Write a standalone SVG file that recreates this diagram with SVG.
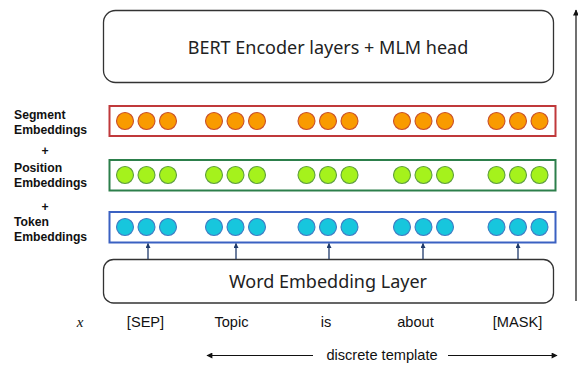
<svg xmlns="http://www.w3.org/2000/svg" width="578" height="365" viewBox="0 0 578 365">
<defs>
<style>
.box{fill:#fff;stroke:#333;stroke-width:1.3}
.big{font-family:"Noto Sans","Liberation Sans",sans-serif;font-size:18px;fill:#222;text-anchor:middle}
.lbl{font-family:"Liberation Sans",Arial,sans-serif;font-size:12.2px;font-weight:bold;fill:#111}
.tok{font-family:"Liberation Sans",Arial,sans-serif;font-size:14.6px;fill:#111;text-anchor:middle}
.row{fill:#fff;stroke-width:2}
.seg circle{fill:#F99B00;stroke:#C9502A;stroke-width:1.1}
.pos circle{fill:#A5F21C;stroke:#5E9E3E;stroke-width:1.1}
.tkn circle{fill:#17C6DD;stroke:#3E7CC4;stroke-width:1.1}
.up{stroke:#1F3A6B;stroke-width:1.3;fill:none;marker-end:url(#ah)}
.blk{stroke:#111;stroke-width:1.2;fill:none;marker-end:url(#bh)}
</style>
<marker id="ah" viewBox="0 0 10 10" refX="9" refY="5" markerWidth="5" markerHeight="5" orient="auto" markerUnits="userSpaceOnUse"><path d="M0,0 L10,5 L0,10 z" fill="#1F3A6B"/></marker>
<marker id="bh" viewBox="0 0 10 10" refX="9" refY="5" markerWidth="7" markerHeight="6" orient="auto" markerUnits="userSpaceOnUse"><path d="M0,0 L10,5 L0,10 z" fill="#111"/></marker>
</defs>
<rect width="578" height="365" fill="#fff"/>

<g id="bert-encoder">
<rect class="box" x="103.5" y="10.5" width="450" height="72" rx="12"/>
<text class="big" x="328" y="54">BERT Encoder layers + MLM head</text>
</g>

<g id="segment-embeddings" class="seg">
<rect class="row" x="109.5" y="106" width="446" height="30" stroke="#C0393B"/>
<circle cx="125" cy="121" r="8.5"/><circle cx="146.5" cy="121" r="8.5"/><circle cx="168" cy="121" r="8.5"/>
<circle cx="214" cy="121" r="8.5"/><circle cx="235.5" cy="121" r="8.5"/><circle cx="257" cy="121" r="8.5"/>
<circle cx="306.5" cy="121" r="8.5"/><circle cx="328" cy="121" r="8.5"/><circle cx="349.5" cy="121" r="8.5"/>
<circle cx="402" cy="121" r="8.5"/><circle cx="423.5" cy="121" r="8.5"/><circle cx="445" cy="121" r="8.5"/>
<circle cx="496.5" cy="121" r="8.5"/><circle cx="518" cy="121" r="8.5"/><circle cx="539.5" cy="121" r="8.5"/>
</g>

<g id="position-embeddings" class="pos">
<rect class="row" x="109.5" y="160" width="446" height="30.5" stroke="#2C7F4B"/>
<circle cx="125" cy="175" r="8.5"/><circle cx="146.5" cy="175" r="8.5"/><circle cx="168" cy="175" r="8.5"/>
<circle cx="214" cy="175" r="8.5"/><circle cx="235.5" cy="175" r="8.5"/><circle cx="257" cy="175" r="8.5"/>
<circle cx="306.5" cy="175" r="8.5"/><circle cx="328" cy="175" r="8.5"/><circle cx="349.5" cy="175" r="8.5"/>
<circle cx="402" cy="175" r="8.5"/><circle cx="423.5" cy="175" r="8.5"/><circle cx="445" cy="175" r="8.5"/>
<circle cx="496.5" cy="175" r="8.5"/><circle cx="518" cy="175" r="8.5"/><circle cx="539.5" cy="175" r="8.5"/>
</g>

<g id="token-embeddings" class="tkn">
<rect class="row" x="109.5" y="212" width="446" height="30.5" stroke="#3A61C2"/>
<circle cx="125" cy="227" r="8.5"/><circle cx="146.5" cy="227" r="8.5"/><circle cx="168" cy="227" r="8.5"/>
<circle cx="214" cy="227" r="8.5"/><circle cx="235.5" cy="227" r="8.5"/><circle cx="257" cy="227" r="8.5"/>
<circle cx="306.5" cy="227" r="8.5"/><circle cx="328" cy="227" r="8.5"/><circle cx="349.5" cy="227" r="8.5"/>
<circle cx="402" cy="227" r="8.5"/><circle cx="423.5" cy="227" r="8.5"/><circle cx="445" cy="227" r="8.5"/>
<circle cx="496.5" cy="227" r="8.5"/><circle cx="518" cy="227" r="8.5"/><circle cx="539.5" cy="227" r="8.5"/>
</g>

<g id="embedding-labels">
<text class="lbl" x="14" y="119">Segment</text>
<text class="lbl" x="14" y="134">Embeddings</text>
<text class="lbl" x="45" y="155" text-anchor="middle">+</text>
<text class="lbl" x="14" y="172">Position</text>
<text class="lbl" x="14" y="187">Embeddings</text>
<text class="lbl" x="45" y="211" text-anchor="middle">+</text>
<text class="lbl" x="14" y="225.5">Token</text>
<text class="lbl" x="14" y="240.5">Embeddings</text>
</g>

<g id="word-embedding-layer">
<rect class="box" x="103.5" y="259.5" width="450" height="43.5" rx="10"/>
<text class="big" x="328" y="288">Word Embedding Layer</text>
</g>

<g id="tokens">
<text x="80" y="327" font-family="'Liberation Serif','Times New Roman',serif" font-style="italic" font-size="15" fill="#111" text-anchor="middle">x</text>
<text class="tok" x="145.5" y="327">[SEP]</text>
<text class="tok" x="231.5" y="327">Topic</text>
<text class="tok" x="326" y="327">is</text>
<text class="tok" x="415.5" y="327">about</text>
<text class="tok" x="517.5" y="327">[MASK]</text>
<text class="tok" x="382" y="360">discrete template</text>
</g>

<g id="connectors">
<line class="up" x1="148" y1="259" x2="148" y2="243.5"/>
<line class="up" x1="236" y1="259" x2="236" y2="243.5"/>
<line class="up" x1="329" y1="259" x2="329" y2="243.5"/>
<line class="up" x1="423" y1="259" x2="423" y2="243.5"/>
<line class="up" x1="518" y1="259" x2="518" y2="243.5"/>
<line class="blk" x1="313" y1="355.5" x2="207" y2="355.5"/>
<line class="blk" x1="448" y1="355.5" x2="557" y2="355.5"/>
<line class="blk" x1="576" y1="301" x2="576" y2="10"/>
</g>
</svg>
